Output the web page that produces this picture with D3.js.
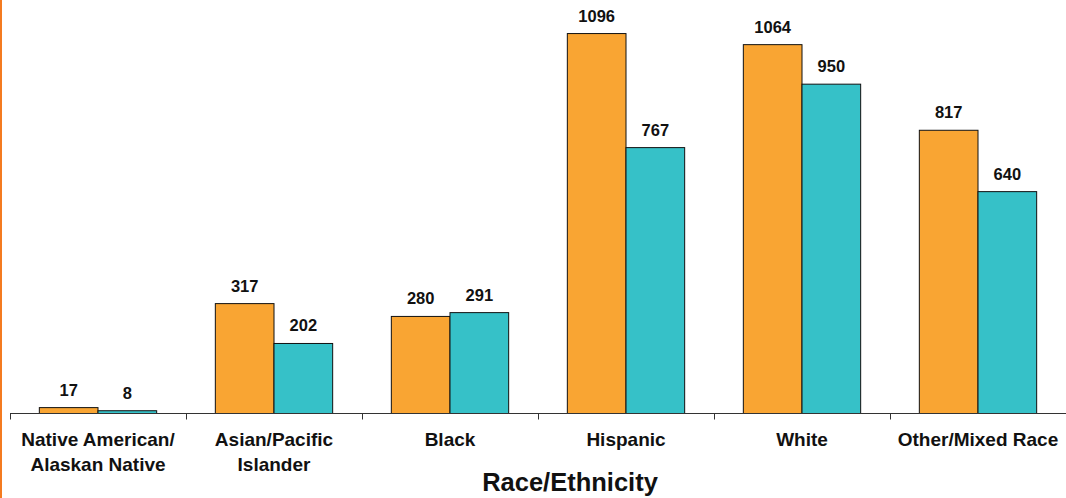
<!DOCTYPE html>
<html>
<head>
<meta charset="utf-8">
<script src="https://cdn.jsdelivr.net/npm/d3@7/dist/d3.min.js"></script>
<style>
  html, body { margin: 0; padding: 0; background: #fff; }
  svg { display: block; }
  text { font-family: "Liberation Sans", Arial, Helvetica, sans-serif; font-weight: bold; fill: #111; }
</style>
</head>
<body>
<script>
// Category labels (each entry is one or two lines)
const categories = [
  ["Native American/", "Alaskan Native"],
  ["Asian/Pacific", "Islander"],
  ["Black"],
  ["Hispanic"],
  ["White"],
  ["Other/Mixed Race"]
];
// Two series per category
const series1 = [17, 317, 280, 1096, 1064, 817];
const series2 = [8, 202, 291, 767, 950, 640];
const seriesColors = ["#F9A533", "#36C1C8"];
const axisTitle = "Race/Ethnicity";

const W = 1066, H = 498;
const left = 10, right = 1066, baseY = 413.5;

const svg = d3.select("body").append("svg")
  .attr("width", W).attr("height", H);

// Thin accent rule on the left edge
svg.append("rect").attr("x", 0).attr("y", 0).attr("width", 2).attr("height", H)
  .attr("fill", "#F47B20");

const idx = categories.map((d, i) => i);
const x0 = d3.scaleBand().domain(idx).range([left, right]).padding(0);
const x1 = d3.scaleBand().domain([0, 1]).range([0, x0.bandwidth()])
  .paddingInner(0).paddingOuter(0.5);
const y = d3.scaleLinear().domain([0, 1200]).range([baseY, -2.5]);

const rows = idx.map(i => ({ i, vals: [series1[i], series2[i]] }));

const g = svg.append("g");
const groups = g.selectAll("g.grp").data(rows).join("g")
  .attr("class", "grp")
  .attr("transform", d => `translate(${x0(d.i)},0)`);

groups.selectAll("rect").data(d => d.vals.map((v, s) => ({ v, s }))).join("rect")
  .attr("x", d => x1(d.s))
  .attr("y", d => y(d.v))
  .attr("width", x1.bandwidth())
  .attr("height", d => baseY - y(d.v))
  .attr("fill", d => seriesColors[d.s])
  .attr("stroke", "#111")
  .attr("stroke-width", 1);

groups.selectAll("text.val").data(d => d.vals.map((v, s) => ({ v, s }))).join("text")
  .attr("class", "val")
  .attr("x", d => x1(d.s) + x1.bandwidth() / 2)
  .attr("y", d => y(d.v) - 12)
  .attr("text-anchor", "middle")
  .style("font-size", "16.5px")
  .text(d => d.v);

// Category axis with ticks at band boundaries
const axisG = svg.append("g");
axisG.append("line")
  .attr("x1", left).attr("x2", right)
  .attr("y1", baseY).attr("y2", baseY)
  .attr("stroke", "#333").attr("stroke-width", 1);
const bounds = idx.map(i => x0(i)).concat([right]);
axisG.selectAll("line.tick").data(bounds).join("line")
  .attr("class", "tick")
  .attr("x1", d => Math.round(d) + 0.5).attr("x2", d => Math.round(d) + 0.5)
  .attr("y1", baseY).attr("y2", baseY + 6)
  .attr("stroke", "#333").attr("stroke-width", 1);

const labels = axisG.selectAll("text.cat").data(rows).join("text")
  .attr("class", "cat")
  .attr("x", d => x0(d.i) + x0.bandwidth() / 2)
  .attr("y", 446)
  .attr("text-anchor", "middle")
  .style("font-size", "19px");
labels.selectAll("tspan").data(d => categories[d.i]).join("tspan")
  .attr("x", function () { return d3.select(this.parentNode).attr("x"); })
  .attr("dy", (d, k) => k === 0 ? 0 : 25)
  .text(d => d);

svg.append("text")
  .attr("x", 570).attr("y", 491)
  .attr("text-anchor", "middle")
  .style("font-size", "25.5px")
  .text(axisTitle);
</script>
</body>
</html>
